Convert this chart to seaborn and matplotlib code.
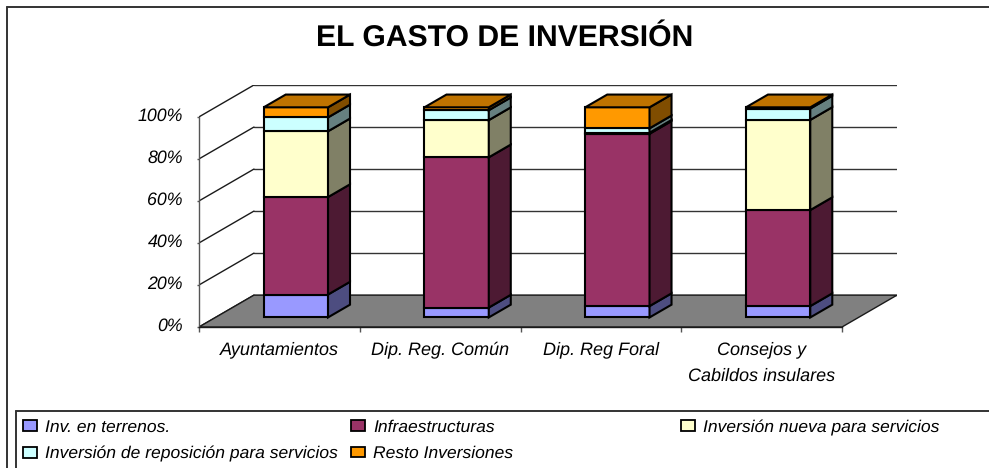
import numpy as np
import seaborn as sns
import matplotlib.pyplot as plt
from matplotlib.lines import Line2D
from matplotlib.patches import Patch
from matplotlib.transforms import ScaledTranslation

categories = ['Ayuntamientos', 'Dip. Reg. Común', 'Dip. Reg Foral', 'Consejos y\nCabildos insulares']
series_names = ['Inv. en terrenos.', 'Infraestructuras', 'Inversión nueva para servicios',
                'Inversión de reposición para servicios', 'Resto Inversiones']
terrenos = [10.9, 4.7, 5.4, 5.4]
infraestructuras = [46.4, 71.5, 82.0, 45.7]
nueva = [31.3, 17.7, 0.5, 42.9]
reposicion = [6.6, 4.7, 2.1, 5.4]
resto = [4.8, 1.4, 10.0, 0.6]
y_ticks = [0, 20, 40, 60, 80, 100]
y_labels = ['0%', '20%', '40%', '60%', '80%', '100%']

front_colors = ['#9999FF', '#993366', '#FFFFCC', '#CCFFFF', '#FF9900']
side_colors = ['#4D4D80', '#4D1A33', '#808066', '#668080', '#804D00']
top_color = '#BF7300'

W, H = 989, 468
DX = 0.342   # depth of the 3d box in category units
DY = 15.17   # depth of the 3d box in percent units
BAR_W = 0.4
ink = '#1a1a1a'

sns.set_theme(style='white')
plt.rcParams['font.family'] = ['Liberation Sans', 'DejaVu Sans']
plt.rcParams['text.hinting'] = 'none'


def fx(px):
    return px / W


def fy(px):
    return 1 - px / H


fig = plt.figure(figsize=(W / 100, H / 100), dpi=100)
ax = fig.add_axes([fx(199), fy(327), (897 - 199) / W, (327 - 85) / H])
ax.patch.set_alpha(0)

pos = np.arange(len(categories))
x_front = pos + 0.3 * DX
base = np.full(len(categories), 0.3 * DY)

# floor, back wall and left wall
ax.fill([-0.5, 3.5, 3.5 + DX, -0.5 + DX], [0, 0, DY, DY], facecolor='#808080',
        edgecolor=ink, linewidth=1, zorder=1)
for v in y_ticks:
    ax.plot([-0.5 + DX, 3.5 + DX], [v + DY, v + DY], color='#333333', lw=1, zorder=0.5)
    ax.plot([-0.5, -0.5 + DX], [v, v + DY], color=ink, lw=1, zorder=0.5)

# stacked bars: front faces with seaborn, depth faces on top of them
for vals, name, c, sc in zip([terrenos, infraestructuras, nueva, reposicion, resto],
                             series_names, front_colors, side_colors):
    vals = np.array(vals)
    sns.barplot(x=x_front, y=vals, bottom=base, native_scale=True, width=BAR_W,
                color=c, saturation=1, edgecolor='black', linewidth=1.5,
                ax=ax, zorder=5, legend=False)
    for xf, b, v in zip(x_front, base, vals):
        xr = xf + BAR_W / 2
        ax.fill([xr, xr + 0.4 * DX, xr + 0.4 * DX, xr],
                [b, b + 0.4 * DY, b + v + 0.4 * DY, b + v],
                facecolor=sc, edgecolor='black', linewidth=1.5, zorder=5)
    base = base + vals

for xf, b in zip(x_front, base):
    xl, xr = xf - BAR_W / 2, xf + BAR_W / 2
    ax.fill([xl, xr, xr + 0.4 * DX, xl + 0.4 * DX],
            [b, b, b + 0.4 * DY, b + 0.4 * DY],
            facecolor=top_color, edgecolor='black', linewidth=1.5, zorder=5)

ax.set_xlim(-0.5, 3.5 + DX)
ax.set_ylim(0, 100 + DY)
ax.set_xlabel('')
ax.set_ylabel('')

ax.set_yticks(y_ticks)
ax.set_yticklabels(y_labels, fontsize=12.8, style='italic', color='black')
ax.tick_params(axis='y', left=True, length=1.5, width=1, color='#555555', pad=10)
for lab in ax.get_yticklabels():
    lab.set_transform(lab.get_transform() + ScaledTranslation(0, 2.5 / 100, fig.dpi_scale_trans))

ax.set_xticks(np.arange(-0.5, 4, 1))
ax.set_xticklabels([])
ax.set_xticks(pos, minor=True)
ax.set_xticklabels(categories, minor=True, fontsize=13, style='italic', color='black',
                   linespacing=1.8)
ax.tick_params(axis='x', which='major', bottom=True, length=3.6, width=1, color='#555555')
ax.tick_params(axis='x', which='minor', bottom=False, length=0, pad=10)

sns.despine(ax=ax, top=True, right=True)
ax.spines['left'].set_bounds(0, 100)
ax.spines['left'].set_color('#555555')
ax.spines['bottom'].set_bounds(-0.5, 3.5)
ax.spines['bottom'].set_color(ink)
for sp in ax.spines.values():
    sp.set_linewidth(1)

fig.text(fx(505), fy(38), 'EL GASTO DE INVERSIÓN', ha='center', va='center',
         fontsize=21.7, fontweight='bold', color='black')

# outer frame and legend frame run off the picture on the right and at the bottom
for xs, ys in [([6.5, W], [6.5, 6.5]), ([6.5, 6.5], [6.5, H]),
               ([16, W], [411, 411]), ([16, 16], [411, H])]:
    fig.add_artist(Line2D([fx(x) for x in xs], [fy(y) for y in ys], color='#333333', lw=1.4))

handles = [Patch(facecolor=c, edgecolor='black', linewidth=1.3) for c in front_colors]
columns = [(23, [0, 3]), (351, [1, 4]), (681, [2])]
for left, idx in columns:
    leg = fig.legend([handles[i] for i in idx], [series_names[i] for i in idx],
                     loc='upper left', bbox_to_anchor=(fx(left), fy(419.5)), frameon=False,
                     prop={'size': 12.6, 'style': 'italic'}, borderpad=0, borderaxespad=0,
                     handlelength=0.8, handleheight=0.57, handletextpad=0.45,
                     labelspacing=0.6, labelcolor='black')

fig.savefig('out.png', dpi=100)
